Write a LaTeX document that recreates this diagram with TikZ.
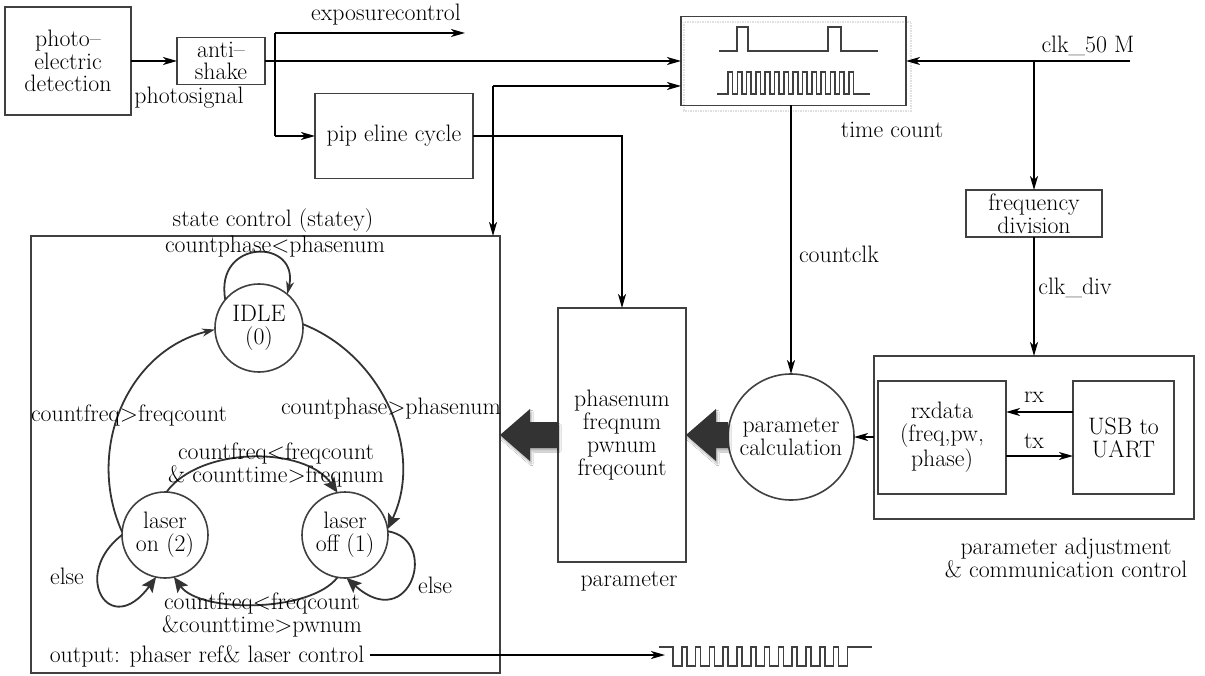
\documentclass[tikz,border=0pt]{standalone}
\usetikzlibrary{arrows.meta,shadows.blur,calc}
\begin{document}
\begin{tikzpicture}[x=1pt,y=-1pt,
  every node/.style={font=\fontsize{23.8}{22.8}\selectfont, inner sep=0pt, outer sep=0pt},
  box/.style={draw=black!75, line width=1.6pt, align=center, rectangle},
  circ/.style={draw=black!75, line width=1.6pt, circle, align=center},
  conn/.style={draw=black, line width=1.6pt, -{Stealth[length=14pt,width=8pt,inset=4pt]}},
  plainline/.style={draw=black, line width=1.6pt},
  sthin/.style={draw=black!80, line width=1.8pt, -{Stealth[length=13pt,width=8pt,inset=4pt]}},
  sbig/.style={draw=black!80, line width=1.8pt, -{Stealth[length=15pt,width=13pt,inset=3pt]}},
  lbl/.style={anchor=base},
  mlbl/.style={align=center},
  wave/.style={draw=black!75, line width=1.6pt},
  blockarrow/.style={fill=black!80, blur shadow={shadow xshift=1.5pt, shadow yshift=-3pt, shadow blur steps=6, shadow opacity=30}}
]
\fill[white] (0,0) rectangle (1205,676);
\useasboundingbox (0,0) rectangle (1205,676);

% ---------- top left blocks ----------
\node[box, minimum width=126pt, minimum height=108pt] (det) at (68,61) {photo--\\electric\\detection};
\node[box, minimum width=88pt, minimum height=47pt] (anti) at (221,61) {anti--\\shake};
\node[box, minimum width=158pt, minimum height=85pt] (pipe) at (394,136) {pip eline cycle};
\node[lbl] (psig) at (189,104) {photosignal};
\node[lbl] (expl) at (386,21) {exposurecontrol};

% ---------- time count ----------
\draw[black!12, densely dotted, line width=1.5pt] (684,22) rectangle (911,111);
\node[box, minimum width=225pt, minimum height=89pt] (tc) at (793.5,61) {};
\draw[wave] (719,51) -- (737,51) -- (737,27) -- (748,27) -- (748,51) -- (828,51) -- (828,27) -- (841,27) -- (841,51) -- (878,51);
\draw[wave] (717,94) -- (728,94) \foreach \i in {0,...,13} { -- ++(0,-22) -- ++(4.6,0) -- ++(0,22) -- ++(4.7,0) } -- (870,94);
\node[lbl] (tcl) at (892,138) {time count};

% ---------- clock ----------
\node[lbl] (clkl) at (1088,53) {clk\_50 M};
\coordinate (clkin) at (1130,61);
\coordinate (clkbr) at (1034,61);
\node[box, minimum width=136pt, minimum height=47pt] (fdiv) at (1034,213.5) {frequency\\division};
\node[lbl] (clkdl) at (1075,295) {clk\_div};

% ---------- parameter adjustment ----------
\node[box, minimum width=320pt, minimum height=163pt] (padj) at (1034,437.5) {};
\node[box, minimum width=128pt, minimum height=113pt] (rxd) at (942,437.5) {rxdata\\(freq,pw,\\phase)};
\node[box, minimum width=101pt, minimum height=113pt] (usb) at (1123.5,437.5) {USB to\\UART};
\node[lbl] (rxl) at (1034,402) {rx};
\node[lbl] (txl) at (1034,448) {tx};
\node[mlbl] (padjl) at (1066,558) {parameter adjustment\\\& communication control};
\coordinate (rxy) at (0,412);
\coordinate (txy) at (0,456);

% ---------- parameter calc & parameter ----------
\node[circ, minimum size=126pt] (pcalc) at (791,437) {parameter\\calculation};
\node[lbl] (cclk) at (839,263) {countclk};
\node[box, minimum width=128pt, minimum height=254pt] (param) at (622,435) {phasenum\\freqnum\\pwnum\\freqcount};
\node[lbl] (paraml) at (629,586) {parameter};

% ---------- state control ----------
\node[box, minimum width=469pt, minimum height=437pt] (sc) at (265.5,454.5) {};
\node[lbl] (scl) at (273,227) {state control (statey)};
\node[circ, minimum size=88pt] (idle) at (259,328) {IDLE\\(0)};
\node[circ, minimum size=86pt] (lon) at (165,535) {laser\\on (2)};
\node[circ, minimum size=86pt] (loff) at (345,535) {laser\\off (1)};

\draw[sthin] (idle.140) .. controls (214,238) and (300,238) .. (idle.50);
\draw[sbig] (idle.5) .. controls (382.6,355.4) and (424.5,451.9) .. (loff.8);
\draw[sthin] (lon.176) .. controls (85.1,449.8) and (127.4,350.5) .. (idle.182);
\draw[sbig] (lon.88) .. controls (200,446) and (305,446) .. (loff.100);
\draw[sbig] (loff.260) .. controls (310,613) and (200,613) .. (lon.282);
\draw[sbig] (lon.180) .. controls (70,575) and (110,640) .. (lon.258);
\draw[sbig] (loff.5) .. controls (440,540) and (410,635) .. (loff.272);

\node[lbl] (l1) at (275,253) {countphase<phasenum};
\node[lbl] (l2) at (129,421) {countfreq>freqcount};
\node[lbl] (l3) at (391,414) {countphase>phasenum};
\node[mlbl] (l4) at (276,465) {countfreq<freqcount\\\& counttime>freqnum};
\node[mlbl] (l5) at (262,615) {countfreq<freqcount\\\&counttime>pwnum};
\node[lbl] (l6) at (67,584) {else};
\node[lbl] (l7) at (435,593) {else};
\node[lbl] (outl) at (207,662) {output: phaser ref\& laser control};

% ---------- output waveform ----------
\coordinate (os) at (370,655);
\coordinate (we) at (665,655);
\draw[wave] (659,647) -- (673,647) \foreach \i in {1,...,13}{ -- ++(0,19) -- ++(8.8,0) -- ++(0,-19) -- ++(5,0)} -- (872,647);

% ---------- connectors ----------
\draw[conn] (det.east |- anti.west) -- (anti.west);
\draw[conn] (anti.east) -- (anti.east -| tc.west);
\coordinate (br1) at (275,33);
\coordinate (br2) at (275,136);
\coordinate (expend) at (465,33);
\draw[plainline] (br1) -- (br2);
\draw[conn] (br1) -- (expend);
\draw[conn] (br2) -- (pipe.west);
\draw[conn] (pipe.east) -| (param.north);
\coordinate (c2) at (493,86);
\draw[conn] (c2) -- (c2 -| tc.west);
\draw[conn] (c2) -- (c2 |- sc.north);
\draw[conn] (clkin) -- (tc.east);
\draw[conn] (clkbr) -- (fdiv.north);
\draw[conn] (fdiv.south) -- (padj.north);
\draw[conn] (tc.south -| pcalc.north) -- (pcalc.north);
\draw[conn] (padj.west |- pcalc.east) -- (pcalc.east);
\draw[conn] (usb.west |- rxy) -- (rxd.east |- rxy);
\draw[conn] (rxd.east |- txy) -- (usb.west |- txy);
\draw[conn] (os) -- (we);

% ---------- block arrows ----------
\fill[blockarrow] (pcalc.west |- 0,422) -- (716,422) -- (716,409) -- (param.east |- 0,435) -- (716,461) -- (716,448) -- (pcalc.west |- 0,448) -- cycle;
\fill[blockarrow] (param.west |- 0,422) -- (530,422) -- (530,409) -- (sc.east |- 0,435) -- (530,461) -- (530,448) -- (param.west |- 0,448) -- cycle;
\end{tikzpicture}
\end{document}
